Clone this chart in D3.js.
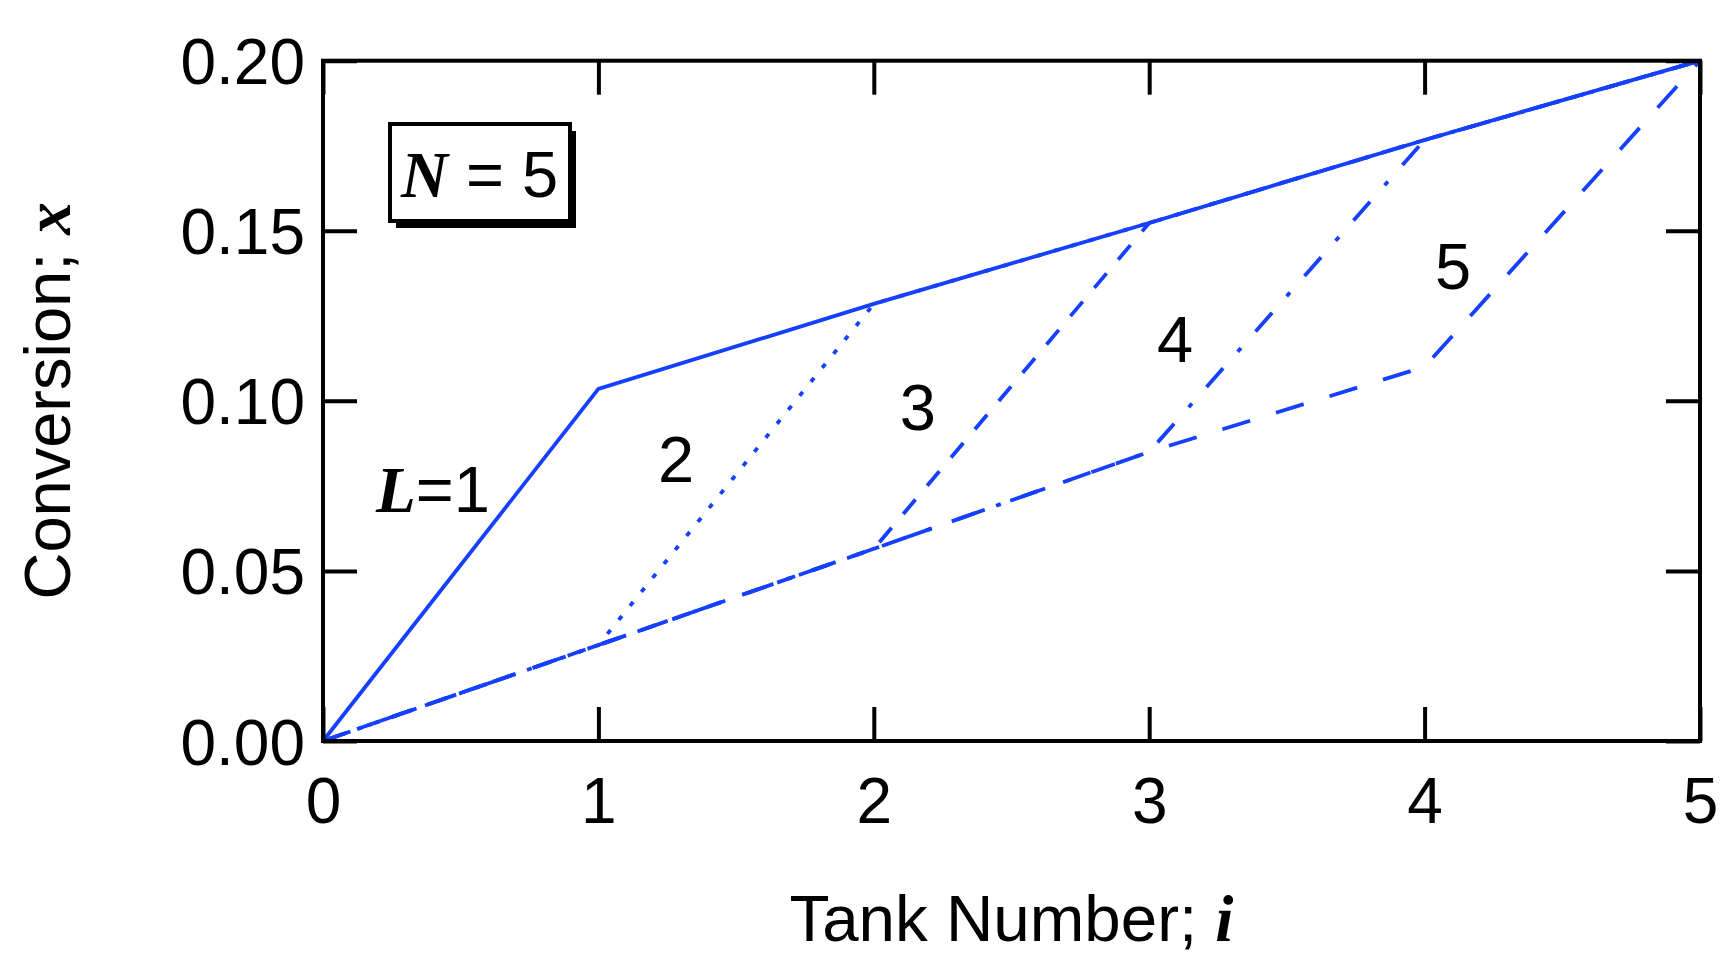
<!DOCTYPE html>
<html>
<head>
<meta charset="utf-8">
<script src="https://cdn.jsdelivr.net/npm/d3@7"></script>
<style>
  html, body { margin: 0; padding: 0; background: #fff; }
  svg { display: block; }
</style>
</head>
<body>
<svg id="chart" width="1730" height="976"></svg>
<script>
// ---- data ----
const tanks = [0, 1, 2, 3, 4, 5];
const xTicks = [0, 1, 2, 3, 4, 5];
const yTicks = [0.00, 0.05, 0.10, 0.15, 0.20];
const seriesL1 = [0, 0.1035, 0.1285, 0.1523, 0.1767, 0.200];
const seriesL2 = [0, 0.0282, 0.1285, 0.1523, 0.1767, 0.200];
const seriesL3 = [0, 0.0282, 0.0565, 0.1523, 0.1767, 0.200];
const seriesL4 = [0, 0.0282, 0.0565, 0.0850, 0.1767, 0.200];
const seriesL5 = [0, 0.0282, 0.0565, 0.0850, 0.1100, 0.200];
const curveLabels = ["2", "3", "4", "5"];

(function () {
// ---- layout ----
const mLeft = 323, mRight = 1700, mTop = 60.7, mBottom = 741;
const blue = "#1540ff";
const sans = "'Liberation Sans', Arial, Helvetica, sans-serif";
const serif = "'Liberation Serif', 'Times New Roman', serif";
// label anchor positions in data units (x = tank, y = conversion)
const labelAt = [[1.282, 0.0761], [2.16, 0.0914], [3.094, 0.1114], [4.103, 0.1329]];

const svg = d3.select("#chart");
const x = d3.scaleLinear().domain([0, 5]).range([mLeft, mRight]);
const y = d3.scaleLinear().domain([0, 0.2]).range([mBottom, mTop]);

// ---- lines ----
const line = d3.line().x((d, i) => x(tanks[i])).y(d => y(d));
const series = [
  { v: seriesL5, dash: "29,27" },
  { v: seriesL4, dash: "25,22,5,22" },
  { v: seriesL3, dash: "19,18" },
  { v: seriesL2, dash: "5,13" },
  { v: seriesL1, dash: null }
];
svg.append("g").selectAll("path").data(series).join("path")
  .attr("d", d => line(d.v))
  .attr("fill", "none")
  .attr("stroke", blue)
  .attr("stroke-width", 3.8)
  .attr("stroke-linejoin", "miter")
  .attr("stroke-dasharray", d => d.dash);

// ---- axes (ticks inward on all sides) ----
const tickLen = 34;
const gB = svg.append("g").attr("transform", `translate(0,${mBottom})`)
  .call(d3.axisBottom(x).tickValues(xTicks).tickSizeInner(-tickLen).tickSizeOuter(0).tickPadding(37).tickFormat(d3.format("d")));
const gL = svg.append("g").attr("transform", `translate(${mLeft},0)`)
  .call(d3.axisLeft(y).tickValues(yTicks).tickSizeInner(-tickLen).tickSizeOuter(0).tickPadding(18).tickFormat(d3.format(".2f")));
const gT = svg.append("g").attr("transform", `translate(0,${mTop})`)
  .call(d3.axisTop(x).tickValues(xTicks).tickSizeInner(-tickLen).tickSizeOuter(0).tickFormat(""));
const gR = svg.append("g").attr("transform", `translate(${mRight},0)`)
  .call(d3.axisRight(y).tickValues(yTicks).tickSizeInner(-tickLen).tickSizeOuter(0).tickFormat(""));
[gB, gL, gT, gR].forEach(g => {
  g.select(".domain").remove();
  g.selectAll(".tick line").attr("stroke", "#000").attr("stroke-width", 4);
  g.selectAll("text").attr("fill", "#000").attr("font-family", sans).attr("font-size", 64);
});
gL.selectAll("text").attr("dy", "0.36em");

svg.append("rect")
  .attr("x", mLeft).attr("y", mTop)
  .attr("width", mRight - mLeft).attr("height", mBottom - mTop)
  .attr("fill", "none").attr("stroke", "#000").attr("stroke-width", 4);

// ---- axis titles ----
const xt = svg.append("text")
  .attr("x", (mLeft + mRight) / 2).attr("y", 941)
  .attr("text-anchor", "middle").attr("font-size", 65.5).attr("font-family", sans);
xt.append("tspan").text("Tank Number; ");
xt.append("tspan").attr("font-family", serif).attr("font-weight", "bold").attr("font-style", "italic").text("i");

const yt = svg.append("text")
  .attr("transform", `translate(70,${(mTop + mBottom) / 2}) rotate(-90)`)
  .attr("text-anchor", "middle").attr("font-size", 65).attr("font-family", sans);
yt.append("tspan").text("Conversion; ");
yt.append("tspan").attr("font-family", serif).attr("font-weight", "bold").attr("font-style", "italic").text("x");

// ---- N = 5 box ----
const bx = 390, by = 124, bw = 180, bh = 97;
svg.append("rect").attr("x", bx + 6).attr("y", by + 7).attr("width", bw).attr("height", bh).attr("fill", "#000");
svg.append("rect").attr("x", bx).attr("y", by).attr("width", bw).attr("height", bh)
  .attr("fill", "#fff").attr("stroke", "#000").attr("stroke-width", 4);
const nt = svg.append("text").attr("x", 401).attr("y", 197).attr("font-size", 65).attr("font-family", sans);
nt.append("tspan").attr("font-family", serif).attr("font-weight", "bold").attr("font-style", "italic").text("N");
nt.append("tspan").text(" = 5");

// ---- curve labels ----
const lt = svg.append("text").attr("x", 376).attr("y", 512).attr("font-size", 65).attr("font-family", sans);
lt.append("tspan").attr("font-family", serif).attr("font-weight", "bold").attr("font-style", "italic").text("L");
lt.append("tspan").text("=1");

svg.append("g").selectAll("text").data(curveLabels).join("text")
  .attr("x", (d, i) => x(labelAt[i][0])).attr("y", (d, i) => y(labelAt[i][1]))
  .attr("text-anchor", "middle").attr("font-size", 65).attr("font-family", sans)
  .text(d => d);
})();
</script>
</body>
</html>
